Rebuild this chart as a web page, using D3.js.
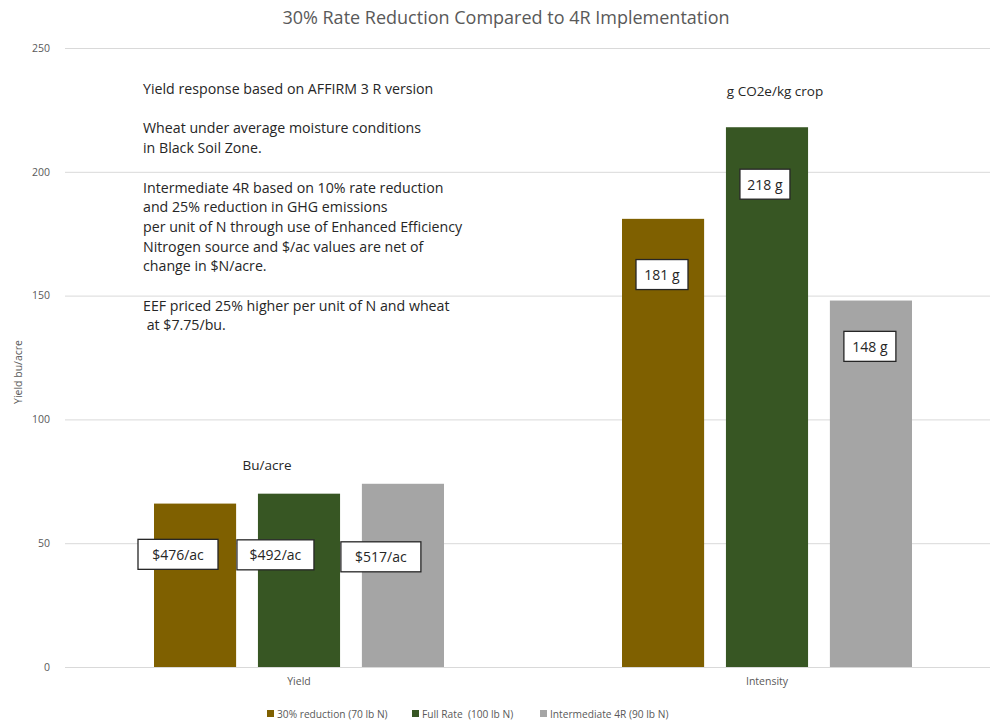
<html>
<script src="https://cdnjs.cloudflare.com/ajax/libs/d3/7.8.5/d3.min.js"></script>
<body style="margin:0;background:#fff">
<svg id="chart" width="990" height="724"></svg>
<script>
// data
var categories = ["Yield", "Intensity"];
var seriesNames = ["30% reduction (70 lb N)", "Full Rate  (100 lb N)", "Intermediate 4R (90 lb N)"];
var yieldValues = [66, 70, 74];
var intensityValues = [181, 218, 148];
var yieldLabels = ["$476/ac", "$492/ac", "$517/ac"];
var intensityLabels = ["181 g", "218 g", "148 g"];
var yTicks = [0, 50, 100, 150, 200, 250];
var colors = ["#7f6000", "#375623", "#a5a5a5"];
var notes = [
    ["Yield response based on AFFIRM 3 R version"],
    ["Wheat under average moisture conditions", "in Black Soil Zone."],
    ["Intermediate 4R based on 10% rate reduction", "and 25% reduction in GHG emissions",
     "per unit of N through use of Enhanced Efficiency", "Nitrogen source and $/ac values are net of",
     "change in $N/acre."],
    ["EEF priced 25% higher per unit of N and wheat", " at $7.75/bu."]
];

var font = "'Open Sans', sans-serif";
var svg = d3.select("#chart").style("font-family", font);

var plotTop = 48, plotBottom = 667, plotLeft = 65, plotRight = 1001;

var y = d3.scaleLinear().domain([0, 250]).range([plotBottom, plotTop]);
var x0 = d3.scaleBand().domain(categories).range([plotLeft, plotRight]);
var x1 = d3.scaleBand().domain(d3.range(3)).range([89, x0.bandwidth() - 89]).paddingInner(0.21);

// title
svg.append("text")
    .attr("x", 506).attr("y", 24)
    .attr("text-anchor", "middle")
    .attr("font-size", 18).attr("fill", "#595959")
    .text("30% Rate Reduction Compared to 4R Implementation");

// grid
svg.append("g").selectAll("line")
    .data(yTicks).enter().append("line")
    .attr("x1", plotLeft).attr("x2", 990)
    .attr("y1", function(d) { return y(d) + 0.5; })
    .attr("y2", function(d) { return y(d) + 0.5; })
    .attr("stroke", "#d9d9d9").attr("stroke-width", 1);

// y axis
var yAxis = svg.append("g")
    .attr("transform", "translate(" + (plotLeft - 12) + ",0)")
    .call(d3.axisLeft(y).tickValues(yTicks).tickSize(0));
yAxis.select(".domain").remove();
yAxis.selectAll("text").attr("font-family", font).attr("font-size", 10.5).attr("fill", "#595959");

svg.append("text")
    .attr("transform", "translate(22," + 372 + ") rotate(-90)")
    .attr("text-anchor", "middle")
    .attr("font-size", 10.5).attr("fill", "#595959")
    .text("Yield bu/acre");

// x axis labels
var xAxis = svg.append("g")
    .attr("transform", "translate(0," + (plotBottom + 8) + ")")
    .call(d3.axisBottom(x0).tickSize(0));
xAxis.select(".domain").remove();
xAxis.selectAll("text").attr("font-family", font).attr("font-size", 10.5).attr("fill", "#595959");

// bars
var groups = [
    { cat: "Yield", values: yieldValues },
    { cat: "Intensity", values: intensityValues }
];

var g = svg.selectAll(".group")
    .data(groups).enter().append("g")
    .attr("transform", function(d) { return "translate(" + x0(d.cat) + ",0)"; });

g.selectAll("rect")
    .data(function(d) { return d.values; })
    .enter().append("rect")
    .attr("x", function(d, i) { return x1(i); })
    .attr("y", function(d) { return y(d); })
    .attr("width", x1.bandwidth())
    .attr("height", function(d) { return plotBottom - y(d); })
    .attr("fill", function(d, i) { return colors[i]; });

// value label boxes (offsets relative to bar, v = box centre in data units)
var yieldBoxes = [
    { dx: -16, w: 80, v: 45.5 }, { dx: -21, w: 77, v: 45.3 }, { dx: -21, w: 80, v: 44.5 }
];
var intBoxes = [
    { dx: 14, w: 52, v: 158.5 }, { dx: 14, w: 50, v: 195 }, { dx: 14, w: 52, v: 129.5 }
];
function drawBoxes(cat, labels, boxes) {
    labels.forEach(function(t, i) {
        var b = boxes[i];
        var bx = x0(cat) + x1(i) + b.dx;
        var by = y(b.v) - 15;
        svg.append("rect")
            .attr("x", bx).attr("y", by)
            .attr("width", b.w).attr("height", 30)
            .attr("fill", "#fff").attr("stroke", "#262626").attr("stroke-width", 1.3);
        svg.append("text")
            .attr("x", bx + b.w / 2).attr("y", by + 20.5)
            .attr("text-anchor", "middle")
            .attr("font-size", 14).attr("fill", "#262626")
            .text(t);
    });
}
drawBoxes("Yield", yieldLabels, yieldBoxes);
drawBoxes("Intensity", intensityLabels, intBoxes);

// group captions
svg.append("text")
    .attr("x", 267).attr("y", 470)
    .attr("text-anchor", "middle")
    .attr("font-size", 13.5).attr("fill", "#262626")
    .text("Bu/acre");
svg.append("text")
    .attr("x", 775).attr("y", 96)
    .attr("text-anchor", "middle")
    .attr("font-size", 13.5).attr("fill", "#262626")
    .text("g CO2e/kg crop");

// notes
var ny = 94;
var nt = svg.append("g").attr("font-size", 14.2).attr("fill", "#262626");
notes.forEach(function(par) {
    par.forEach(function(line) {
        nt.append("text").attr("x", 143).attr("y", ny)
            .style("white-space", "pre")
            .text(line);
        ny += 19.7;
    });
    ny += 19.7;
});

// legend
var legendX = [267, 412, 540];
var leg = svg.append("g").attr("font-size", 10.2).attr("fill", "#595959");
seriesNames.forEach(function(s, i) {
    leg.append("rect")
        .attr("x", legendX[i]).attr("y", 710)
        .attr("width", 7).attr("height", 7)
        .attr("fill", colors[i]);
    leg.append("text")
        .attr("x", legendX[i] + 10).attr("y", 718)
        .style("white-space", "pre")
        .text(s);
});
</script>
</body>
</html>
